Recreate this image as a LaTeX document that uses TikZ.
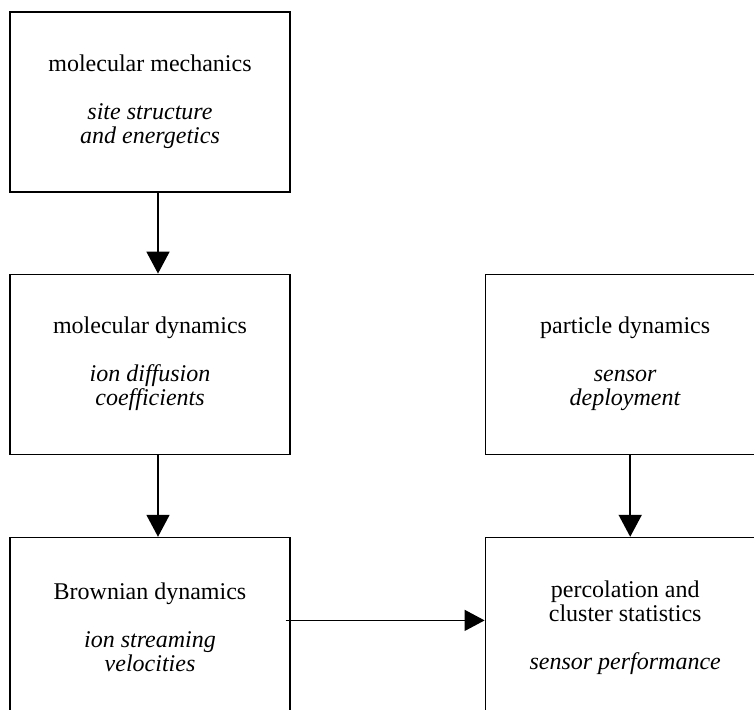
\documentclass[tikz,border=0pt]{standalone}
\usepackage{fontspec}
\setmainfont{Liberation Serif}
\usepackage{tikz}
\usetikzlibrary{arrows.meta, positioning}

\begin{document}
\begin{tikzpicture}[
    x=1pt, y=1pt,
    stage/.style={rectangle, draw, line width=1.2pt, minimum width=280pt, minimum height=180pt, inner sep=0pt, align=center, font=\fontsize{24}{24}\selectfont},
    arrow/.style={-{Triangle[width=23pt,length=22pt]}, line width=1.7pt},
    sidearrow/.style={-{Triangle[width=21pt,length=20pt]}, line width=1.3pt}
]

% Frame
\path[use as bounding box] (0,0) rectangle (754,-709);
\clip (0,0) rectangle (754,-709);

% Left column
\node[stage] (mech) at (150,-102) {molecular mechanics\\[24pt]\textit{site structure}\\\textit{and energetics}};
\node[stage, below=81pt of mech] (moldyn) {molecular dynamics\\[24pt]\textit{ion diffusion}\\\textit{coefficients}};
\node[stage, below=82pt of moldyn] (brown) {Brownian dynamics\\[24pt]\textit{ion streaming}\\\textit{velocities}};

% Right column
\node[stage, right=194pt of moldyn] (partdyn) {particle dynamics\\[24pt]\textit{sensor}\\\textit{deployment}};
\node[stage, below=82pt of partdyn] (perc) {percolation and\\cluster statistics\\[24pt]\textit{sensor performance}};

% Arrows
\draw[arrow] ([xshift=8pt]mech.south) -- ([xshift=8pt]moldyn.north);
\draw[arrow] ([xshift=8pt]moldyn.south) -- ([xshift=8pt]brown.north);
\draw[arrow] ([xshift=5pt]partdyn.south) -- ([xshift=5pt]perc.north);
\draw[sidearrow] ([shift={(-5pt,7pt)}]brown.east) -- ([yshift=7pt]perc.west);

\end{tikzpicture}
\end{document}
